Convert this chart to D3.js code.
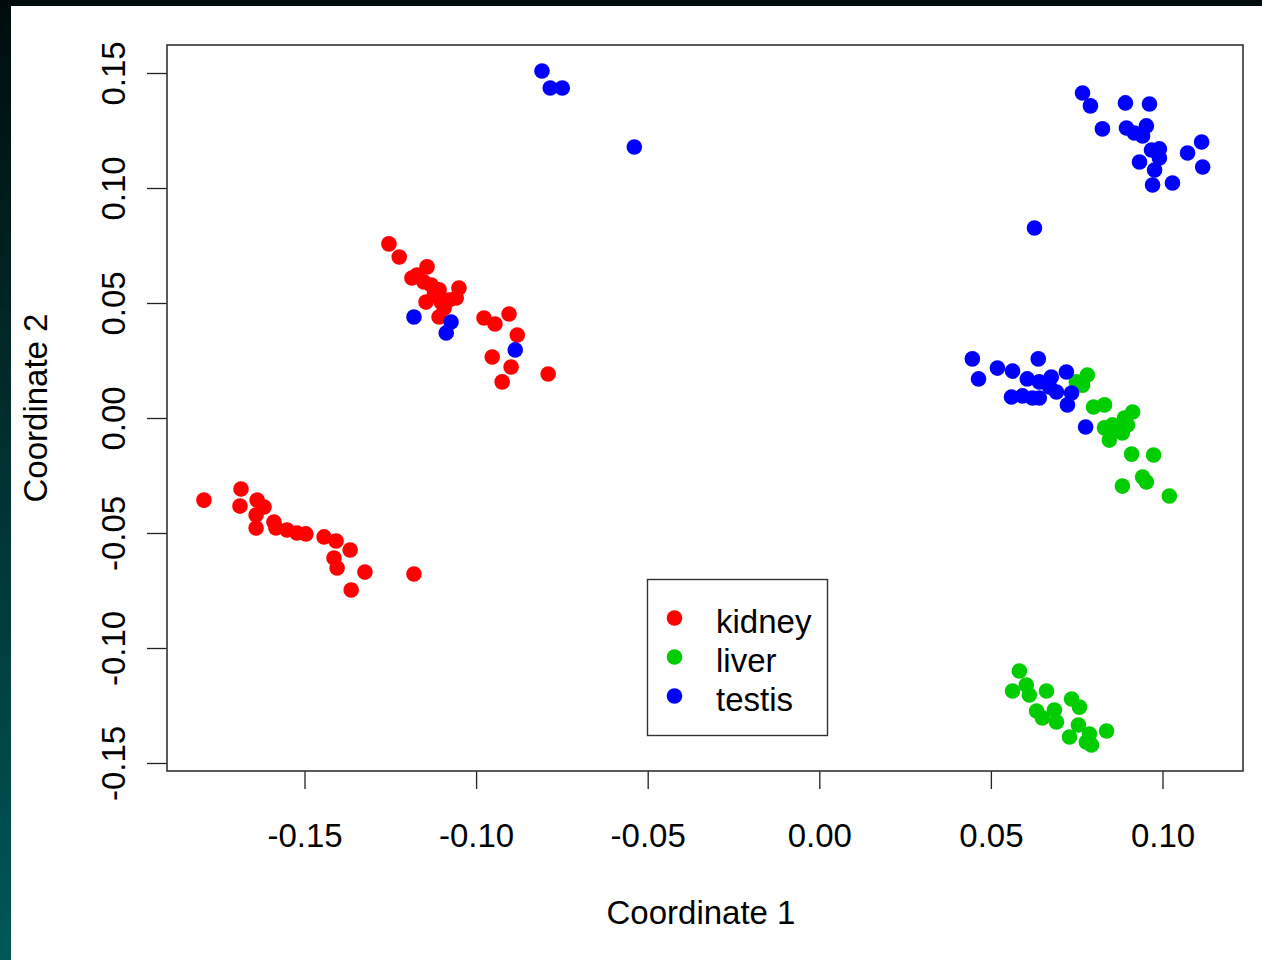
<!DOCTYPE html>
<html>
<head>
<meta charset="utf-8">
<script src="https://cdn.jsdelivr.net/npm/d3@7"></script>
<style>
  html, body { margin: 0; padding: 0; background: #000; }
  svg { display: block; }
</style>
</head>
<body>
<div id="chart"></div>
<script>
// points: [coordinate 1, coordinate 2]
const kidney = [
    [-0.1793, -0.0357], [-0.1685, -0.0309], [-0.1688, -0.0383], [-0.1638, -0.0357],
    [-0.1618, -0.0387], [-0.1641, -0.0422], [-0.1641, -0.0478], [-0.1589, -0.0452],
    [-0.1583, -0.0478], [-0.1551, -0.0487], [-0.1522, -0.0500], [-0.1496, -0.0504],
    [-0.1443, -0.0517], [-0.1408, -0.0535], [-0.1367, -0.0574], [-0.1414, -0.0609],
    [-0.1405, -0.0652], [-0.1324, -0.0670], [-0.1364, -0.0748], [-0.1181, -0.0678],
    [-0.1254, 0.0757], [-0.1224, 0.0700], [-0.1143, 0.0657], [-0.1172, 0.0622],
    [-0.1187, 0.0609], [-0.1152, 0.0591], [-0.1131, 0.0578], [-0.1108, 0.0557],
    [-0.1050, 0.0565], [-0.1058, 0.0522], [-0.1146, 0.0504], [-0.1102, 0.0504],
    [-0.1079, 0.0513], [-0.1108, 0.0439], [-0.1122, 0.0535], [-0.1093, 0.0478],
    [-0.0977, 0.0435], [-0.0945, 0.0409], [-0.0904, 0.0452], [-0.0880, 0.0361],
    [-0.0953, 0.0265], [-0.0898, 0.0222], [-0.0924, 0.0157], [-0.0790, 0.0191]
];

const liver = [
    [0.0781, 0.0187], [0.0749, 0.0157], [0.0767, 0.0143], [0.0799, 0.0048],
    [0.0831, 0.0057], [0.0913, 0.0026], [0.0889, 0.0000], [0.0831, -0.0043],
    [0.0866, -0.0052], [0.0883, -0.0065], [0.0845, -0.0096], [0.0854, -0.0030],
    [0.0898, -0.0030], [0.0910, -0.0157], [0.0974, -0.0161], [0.0942, -0.0257],
    [0.0953, -0.0278], [0.0883, -0.0296], [0.1020, -0.0339],
    [0.0583, -0.1100], [0.0563, -0.1187], [0.0603, -0.1161], [0.0612, -0.1204],
    [0.0662, -0.1187], [0.0735, -0.1222], [0.0758, -0.1257], [0.0633, -0.1274],
    [0.0650, -0.1304], [0.0685, -0.1270], [0.0691, -0.1322], [0.0755, -0.1335],
    [0.0787, -0.1374], [0.0729, -0.1387], [0.0778, -0.1409], [0.0793, -0.1422],
    [0.0837, -0.1361]
];

const testis = [
    [-0.1181, 0.0439], [-0.1073, 0.0417], [-0.1087, 0.0370], [-0.0886, 0.0296],
    [-0.0808, 0.1509], [-0.0784, 0.1435], [-0.0749, 0.1435], [-0.0539, 0.1178],
    [0.0627, 0.0826],
    [0.0767, 0.1413], [0.0790, 0.1357], [0.0892, 0.1370], [0.0962, 0.1365],
    [0.0825, 0.1257], [0.0895, 0.1261], [0.0918, 0.1239], [0.0953, 0.1270],
    [0.0942, 0.1226], [0.0991, 0.1170], [0.0968, 0.1165], [0.0933, 0.1113],
    [0.0991, 0.1130], [0.0977, 0.1078], [0.0971, 0.1013], [0.1029, 0.1022],
    [0.1073, 0.1152], [0.1114, 0.1200], [0.1117, 0.1091],
    [0.0446, 0.0257], [0.0464, 0.0170], [0.0519, 0.0217], [0.0563, 0.0204],
    [0.0638, 0.0257], [0.0606, 0.0170], [0.0641, 0.0157], [0.0676, 0.0178],
    [0.0720, 0.0200], [0.0560, 0.0091], [0.0592, 0.0096], [0.0621, 0.0087],
    [0.0641, 0.0087], [0.0671, 0.0135], [0.0691, 0.0113], [0.0735, 0.0109],
    [0.0723, 0.0057], [0.0776, -0.0039]
];

const groupNames = ["kidney", "liver", "testis"];
const groupColors = ["#ff0000", "#00cd00", "#0000ff"];
const xTicks = [-0.15, -0.10, -0.05, 0.00, 0.05, 0.10];
const yTicks = [-0.15, -0.10, -0.05, 0.00, 0.05, 0.10, 0.15];

const width = 1262, height = 960;
const box = { left: 167, right: 1243, top: 45, bottom: 771 };
const font = "'Liberation Sans', Arial, sans-serif";

const svg = d3.select("#chart").append("svg")
    .attr("width", width)
    .attr("height", height);

// dark slide background with the white plot sheet on top
const grad = svg.append("defs").append("linearGradient")
    .attr("id", "bg").attr("x1", 0).attr("y1", 0).attr("x2", 0).attr("y2", 1);
grad.append("stop").attr("offset", "0%").attr("stop-color", "#000c0c");
grad.append("stop").attr("offset", "100%").attr("stop-color", "#005858");
svg.append("rect").attr("width", width).attr("height", height).attr("fill", "url(#bg)");
svg.append("rect").attr("x", 11).attr("y", 6)
    .attr("width", width - 11).attr("height", height - 6).attr("fill", "#fff");

const x = d3.scaleLinear().domain([-0.15, 0.10]).range([304.5, 1162.5]);
const y = d3.scaleLinear().domain([-0.15, 0.15]).range([763, 73]);

// plain hyphen for the minus sign, like R
const fmt = v => d3.format(".2f")(v).replace("\u2212", "-");

// axes (R style: ticks outside, labels away from box)
const xAxis = svg.append("g")
    .attr("transform", `translate(0,${box.bottom})`)
    .call(d3.axisBottom(x).tickValues(xTicks).tickFormat(fmt).tickSize(18));
const yAxis = svg.append("g")
    .attr("transform", `translate(${box.left},0)`)
    .call(d3.axisLeft(y).tickValues(yTicks).tickFormat(fmt).tickSize(20));

[xAxis, yAxis].forEach(g => {
    g.select(".domain").remove();
    g.selectAll("line").attr("stroke", "#222").attr("stroke-width", 1.3);
    g.selectAll("text")
        .attr("fill", "#000")
        .style("font-family", font)
        .style("font-size", "33px");
});

xAxis.selectAll(".tick text").attr("y", 64).attr("dy", "0.35em");

yAxis.selectAll(".tick text")
    .attr("x", null).attr("dy", null)
    .attr("text-anchor", "middle")
    .attr("transform", "translate(-54,0) rotate(-90)")
    .attr("y", 12);

// points
const groups = [kidney, liver, testis];
groups.forEach((pts, i) => {
    svg.append("g")
        .selectAll("circle")
        .data(pts)
        .enter().append("circle")
        .attr("cx", d => x(d[0]))
        .attr("cy", d => y(d[1]))
        .attr("r", 7.8)
        .attr("fill", groupColors[i]);
});

// plot frame
svg.append("rect")
    .attr("x", box.left).attr("y", box.top)
    .attr("width", box.right - box.left).attr("height", box.bottom - box.top)
    .attr("fill", "none").attr("stroke", "#333").attr("stroke-width", 1.6);

// axis titles
svg.append("text")
    .attr("x", (box.left + box.right) / 2 - 4).attr("y", 924)
    .attr("text-anchor", "middle")
    .style("font-family", font).style("font-size", "33px")
    .text("Coordinate 1");

svg.append("text")
    .attr("transform", `translate(47,${(box.top + box.bottom) / 2}) rotate(-90)`)
    .attr("text-anchor", "middle")
    .style("font-family", font).style("font-size", "33px")
    .text("Coordinate 2");

// legend
const legend = svg.append("g");
legend.append("rect")
    .attr("x", 647.5).attr("y", 579.5).attr("width", 180).attr("height", 156)
    .attr("fill", "#fff").attr("stroke", "#333").attr("stroke-width", 1.4);

const item = legend.selectAll("g.item")
    .data(groupNames)
    .enter().append("g")
    .attr("class", "item")
    .attr("transform", (d, i) => `translate(0,${618 + i * 39})`);

item.append("circle")
    .attr("cx", 674.5).attr("cy", 0).attr("r", 7.8)
    .attr("fill", (d, i) => groupColors[i]);

item.append("text")
    .attr("x", 716).attr("y", 3).attr("dy", "0.36em")
    .style("font-family", font).style("font-size", "33px")
    .text(d => d);
</script>
</body>
</html>
